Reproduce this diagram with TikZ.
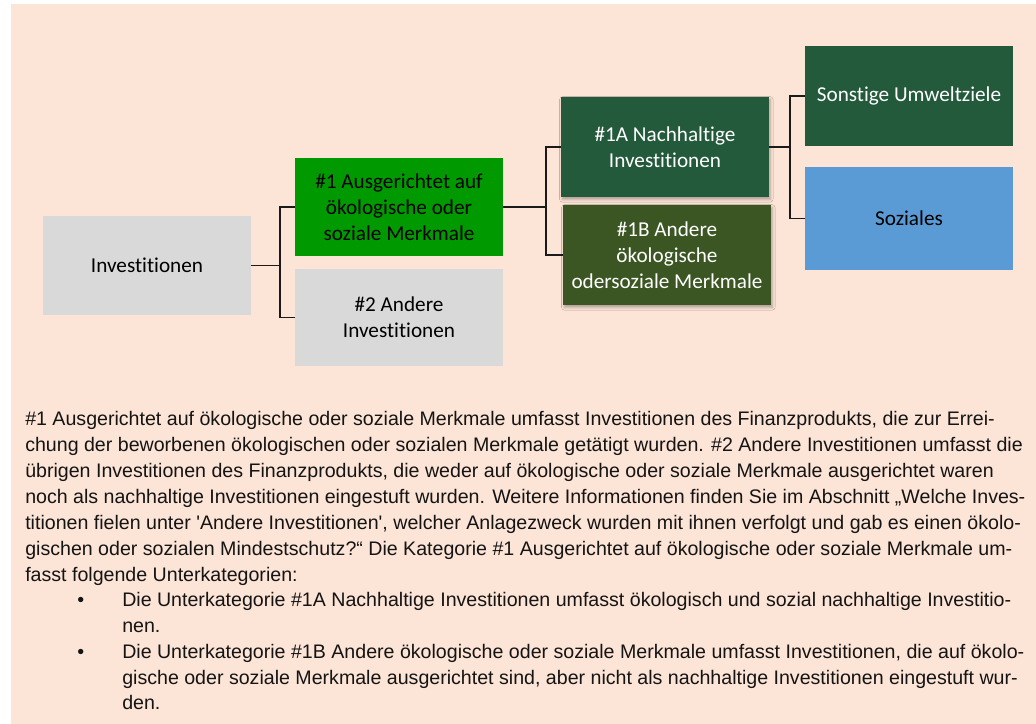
\documentclass[tikz,border=0pt]{standalone}
\usepackage{fontspec}
\newfontfamily\boxfont[Ligatures={NoCommon}]{Carlito}
\newfontfamily\bodyfont{Liberation Sans}
\usetikzlibrary{shadows.blur}
\definecolor{peach}{HTML}{FCE4D6}
\definecolor{boxgray}{HTML}{D9D9D9}
\definecolor{brightgreen}{HTML}{009900}
\definecolor{darkgreen}{HTML}{245A3C}
\definecolor{olivegreen}{HTML}{3B5623}
\definecolor{skyblue}{HTML}{5B9BD5}
\definecolor{linecol}{HTML}{1A1A1A}
\tikzset{
  box/.style={rectangle, inner sep=0pt, minimum width=156pt, minimum height=74.5pt,
    align=center, font=\boxfont\fontsize{15.9}{19.3}\selectfont},
  graybox/.style={box, fill=boxgray, text=black},
  shadowed/.style={blur shadow={shadow xshift=1pt, shadow yshift=-1.8pt, shadow blur radius=2pt, shadow opacity=30}},
  conn/.style={draw=linecol, line width=1.3pt},
  body/.style={anchor=base west, inner sep=0pt, font=\bodyfont\fontsize{14.7}{17}\selectfont, text=black!92}
}
\begin{document}
\begin{tikzpicture}[x=0.75pt,y=-0.75pt]
\useasboundingbox (0,0) rectangle (1036,724);
\fill[white] (0,0) rectangle (1036,724);
\fill[peach] (11,4) rectangle (1036,724);

% boxes
\node[graybox] (inv) at (147,265.5) {Investitionen};
\node[box, fill=brightgreen, text=black, minimum height=73.5pt] (b1) at (399,207) {\#1 Ausgerichtet auf\\ökologische oder\\soziale Merkmale};
\node[graybox, minimum height=72.75pt] (b2) at (399,317.5) {\#2 Andere\\Investitionen};
\node[box, fill=darkgreen, text=white, minimum height=75pt, shadowed] (b1A) at (665,147) {\#1A Nachhaltige\\Investitionen};
\node[box, fill=olivegreen, text=white, minimum height=75pt, shadowed] (b1B) at (667,255) {\#1B Andere\\ökologische\\odersoziale Merkmale};
\node[box, fill=darkgreen, text=white, minimum height=75pt] (sonst) at (909,96) {Sonstige Umweltziele};
\node[box, fill=skyblue, text=black, minimum height=77.25pt] (soz) at (909,218.5) {Soziales};

% connectors
\coordinate (j1) at (280,265.5);
\coordinate (j2) at (546,207);
\coordinate (j3) at (790,147);
\draw[conn] (inv.east) -- (j1) |- (b1.west);
\draw[conn] (j1) |- (b2.west);
\draw[conn] (b1.east) -- (j2) |- (b1A.west);
\draw[conn] (j2) |- (b1B.west);
\draw[conn] (b1A.east) -- (j3) |- (sonst.west);
\draw[conn] (j3) |- (soz.west);

% explanatory text
\node[body] (l1) at (25,425) {\#1 Ausgerichtet auf ökologische oder soziale Merkmale umfasst Investitionen des Finanzprodukts, die zur Errei-};
\node[body] (l2) at (25,451) {chung der beworbenen ökologischen oder sozialen Merkmale getätigt wurden. \#2 Andere Investitionen umfasst die};
\node[body] (l3) at (25,477) {übrigen Investitionen des Finanzprodukts, die weder auf ökologische oder soziale Merkmale ausgerichtet waren};
\node[body] (l4) at (25,503) {noch als nachhaltige Investitionen eingestuft wurden. Weitere Informationen finden Sie im Abschnitt „Welche Inves-};
\node[body] (l5) at (25,529) {titionen fielen unter \textquotesingle Andere Investitionen\textquotesingle, welcher Anlagezweck wurden mit ihnen verfolgt und gab es einen ökolo-};
\node[body] (l6) at (25,555) {gischen oder sozialen Mindestschutz?“ Die Kategorie \#1 Ausgerichtet auf ökologische oder soziale Merkmale um-};
\node[body] (l7) at (25,581) {fasst folgende Unterkategorien:};
\node[body] (d1) at (77,606) {•};
\node[body] (l8) at (122,606) {Die Unterkategorie \#1A Nachhaltige Investitionen umfasst ökologisch und sozial nachhaltige Investitio-};
\node[body] (l9) at (122,632) {nen.};
\node[body] (d2) at (77,658) {•};
\node[body] (l10) at (122,658) {Die Unterkategorie \#1B Andere ökologische oder soziale Merkmale umfasst Investitionen, die auf ökolo-};
\node[body] (l11) at (122,684) {gische oder soziale Merkmale ausgerichtet sind, aber nicht als nachhaltige Investitionen eingestuft wur-};
\node[body] (l12) at (122,709) {den.};
\end{tikzpicture}
\end{document}
